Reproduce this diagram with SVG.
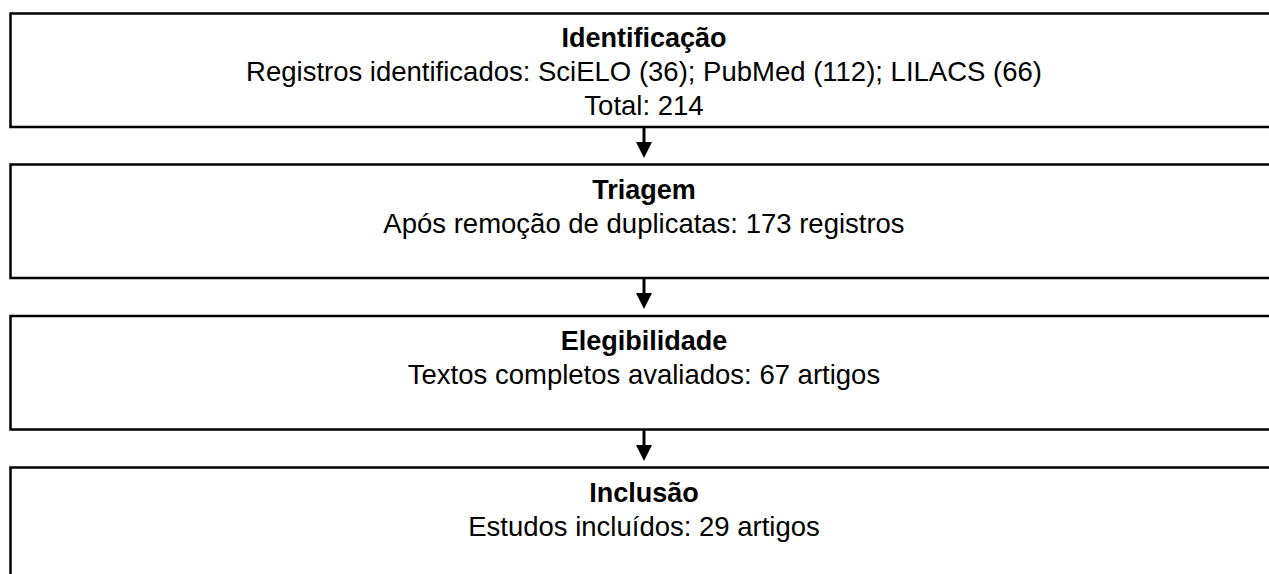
<svg xmlns="http://www.w3.org/2000/svg" width="1269" height="574" viewBox="0 0 1269 574">
  <style>
    .box { fill: #ffffff; stroke: #000000; stroke-width: 2.5; }
    .title { font-family: "Liberation Sans", Arial, sans-serif; font-size: 27px; font-weight: bold; fill: #000; text-anchor: middle; }
    .body { font-family: "Liberation Sans", Arial, sans-serif; font-size: 27.5px; fill: #000; text-anchor: middle; }
    .conn { stroke: #000; stroke-width: 3; fill: none; }
  </style>
  <defs>
    <marker id="arrow" markerUnits="userSpaceOnUse" markerWidth="16" markerHeight="16" refX="0" refY="8" orient="auto" viewBox="0 0 16 16">
      <path d="M0,0 L16,8 L0,16 z" fill="#000"/>
    </marker>
  </defs>
  <rect width="1269" height="574" fill="#ffffff"/>
  <g id="node-identificacao">
    <rect class="box" x="10.5" y="13.5" width="1267" height="113.5"/>
    <text class="title" x="644" y="47">Identificação</text>
    <text class="body" x="644" y="81">Registros identificados: SciELO (36); PubMed (112); LILACS (66)</text>
    <text class="body" x="644" y="115">Total: 214</text>
  </g>
  <g id="node-triagem">
    <rect class="box" x="10.5" y="164.5" width="1267" height="113.5"/>
    <text class="title" x="644" y="198.5">Triagem</text>
    <text class="body" x="644" y="232.5">Após remoção de duplicatas: 173 registros</text>
  </g>
  <g id="node-elegibilidade">
    <rect class="box" x="10.5" y="316" width="1267" height="113.5"/>
    <text class="title" x="644" y="350">Elegibilidade</text>
    <text class="body" x="644" y="384">Textos completos avaliados: 67 artigos</text>
  </g>
  <g id="node-inclusao">
    <rect class="box" x="10.5" y="467.5" width="1267" height="113.5"/>
    <text class="title" x="644" y="501.5">Inclusão</text>
    <text class="body" x="644" y="535.5">Estudos incluídos: 29 artigos</text>
  </g>
  <g id="connectors">
    <line class="conn" x1="644" y1="128" x2="644" y2="142" marker-end="url(#arrow)"/>
    <line class="conn" x1="644" y1="279" x2="644" y2="293" marker-end="url(#arrow)"/>
    <line class="conn" x1="644" y1="430.5" x2="644" y2="445" marker-end="url(#arrow)"/>
  </g>
</svg>
